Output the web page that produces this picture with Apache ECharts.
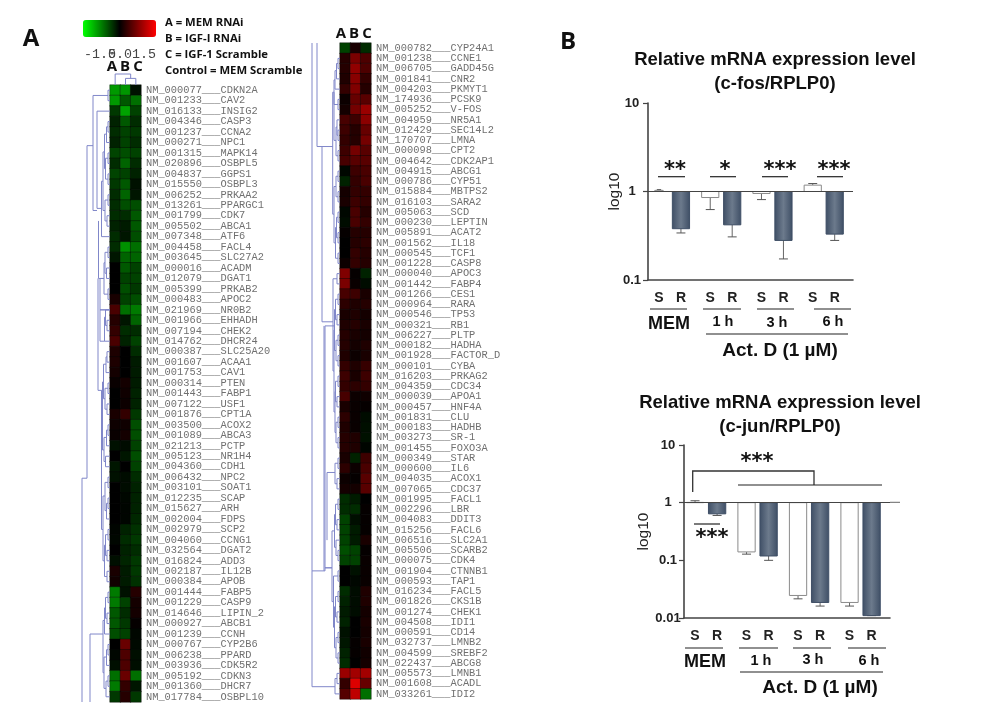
<!DOCTYPE html>
<html><head><meta charset="utf-8">
<style>html,body{margin:0;padding:0;background:#fff}#c{width:1002px;height:721px}</style>
<script src="https://cdn.jsdelivr.net/npm/echarts@6/dist/echarts.min.js"></script>
</head><body><div id="c"></div>
<script>
const sampleLabels = ['A','B','C'];
const leftGenes = ['NM_000077___CDKN2A','NM_001233___CAV2','NM_016133___INSIG2','NM_004346___CASP3','NM_001237___CCNA2','NM_000271___NPC1','NM_001315___MAPK14','NM_020896___OSBPL5','NM_004837___GGPS1','NM_015550___OSBPL3','NM_006252___PRKAA2','NM_013261___PPARGC1','NM_001799___CDK7','NM_005502___ABCA1','NM_007348___ATF6','NM_004458___FACL4','NM_003645___SLC27A2','NM_000016___ACADM','NM_012079___DGAT1','NM_005399___PRKAB2','NM_000483___APOC2','NM_021969___NR0B2','NM_001966___EHHADH','NM_007194___CHEK2','NM_014762___DHCR24','NM_000387___SLC25A20','NM_001607___ACAA1','NM_001753___CAV1','NM_000314___PTEN','NM_001443___FABP1','NM_007122___USF1','NM_001876___CPT1A','NM_003500___ACOX2','NM_001089___ABCA3','NM_021213___PCTP','NM_005123___NR1H4','NM_004360___CDH1','NM_006432___NPC2','NM_003101___SOAT1','NM_012235___SCAP','NM_015627___ARH','NM_002004___FDPS','NM_002979___SCP2','NM_004060___CCNG1','NM_032564___DGAT2','NM_016824___ADD3','NM_002187___IL12B','NM_000384___APOB','NM_001444___FABP5','NM_001229___CASP9','NM_014646___LIPIN_2','NM_000927___ABCB1','NM_001239___CCNH','NM_000767___CYP2B6','NM_006238___PPARD','NM_003936___CDK5R2','NM_005192___CDKN3','NM_001360___DHCR7','NM_017784___OSBPL10'];
const leftA = [-.9,-.9,-.33,-.2,-.26,-.2,-.4,-.26,-.4,-.33,-.26,-.26,-.26,-.2,-.26,-.26,-.13,0,0,0,.14,.43,.22,.3,.43,.17,.17,.12,.05,0,0,.15,.08,.05,-.1,0,-.13,-.1,0,0,0,0,-.03,-.04,0,-.09,.15,.1,-.72,-.72,-.52,-.52,-.46,0,-.04,-.09,-.65,-.72,-.33];
const leftB = [-.88,-.52,-.95,-.52,-.39,-.39,-.46,-.59,-.39,-.52,-.59,-.46,-.26,-.16,-.13,-.85,-.59,-.52,-.39,-.46,-.39,-.65,-.13,-.26,-.2,0,0,0,.12,.09,.07,.3,.09,.12,-.07,-.13,0,-.07,-.07,-.04,-.03,-.03,-.2,-.26,-.2,-.22,-.16,-.16,-.1,-.39,-.26,-.33,-.39,.62,.45,.45,.62,.3,.22];
const leftC = [-.1,-.65,-.39,-.26,-.33,-.26,-.39,-.26,-.2,-.1,-.13,-.46,-.52,-.52,-.46,-.65,-.59,-.39,-.39,-.33,-.46,-.72,-.59,-.26,-.39,-.26,-.16,-.16,-.16,-.2,-.2,-.33,-.46,-.46,-.39,-.46,-.39,-.26,-.2,-.2,-.2,-.23,-.29,-.33,-.26,-.33,-.33,-.29,.22,.12,.12,.03,-.04,-.05,-.09,-.08,-.65,-.13,-.33];
const rightGenes = ['NM_000782___CYP24A1','NM_001238___CCNE1','NM_006705___GADD45G','NM_001841___CNR2','NM_004203___PKMYT1','NM_174936___PCSK9','NM_005252___V-FOS','NM_004959___NR5A1','NM_012429___SEC14L2','NM_170707___LMNA','NM_000098___CPT2','NM_004642___CDK2AP1','NM_004915___ABCG1','NM_000786___CYP51','NM_015884___MBTPS2','NM_016103___SARA2','NM_005063___SCD','NM_000230___LEPTIN','NM_005891___ACAT2','NM_001562___IL18','NM_000545___TCF1','NM_001228___CASP8','NM_000040___APOC3','NM_001442___FABP4','NM_001266___CES1','NM_000964___RARA','NM_000546___TP53','NM_000321___RB1','NM_006227___PLTP','NM_000182___HADHA','NM_001928___FACTOR_D','NM_000101___CYBA','NM_016203___PRKAG2','NM_004359___CDC34','NM_000039___APOA1','NM_000457___HNF4A','NM_001831___CLU','NM_000183___HADHB','NM_003273___SR-1','NM_001455___FOXO3A','NM_000349___STAR','NM_000600___IL6','NM_004035___ACOX1','NM_007065___CDC37','NM_001995___FACL1','NM_002296___LBR','NM_004083___DDIT3','NM_015256___FACL6','NM_006516___SLC2A1','NM_005506___SCARB2','NM_000075___CDK4','NM_001904___CTNNB1','NM_000593___TAP1','NM_016234___FACL5','NM_001826___CKS1B','NM_001274___CHEK1','NM_004508___IDI1','NM_000591___CD14','NM_032737___LMNB2','NM_004599___SREBF2','NM_022437___ABCG8','NM_005573___LMNB1','NM_001608___ACADL','NM_033261___IDI2'];
const rightA = [-.39,.22,.22,.18,.3,.07,.12,.42,.36,.3,.36,.42,-.04,-.2,.12,.15,-.04,-.07,.03,0,0,.07,.75,.72,.42,.26,.15,.18,.22,.22,.18,.3,.36,.3,.42,.15,.26,.18,.22,.22,.15,.26,.07,.12,-.26,-.26,-.39,-.39,-.39,-.46,-.39,0,0,-.26,-.2,-.16,-.2,-.1,-.13,-.2,-.26,.9,.3,.5];
const rightB = [.15,.72,.85,.8,.75,.6,.68,.36,.22,.22,.68,.52,.36,.3,.3,.36,.43,.43,.22,.22,.3,.3,.03,.05,.36,.18,.18,.22,.15,.12,.07,.18,.15,.26,.07,.05,.05,.05,.18,.18,-.2,.07,.03,.12,-.16,-.26,-.08,-.16,-.16,-.39,-.39,-.1,-.04,-.07,-.07,-.07,0,0,.03,.03,0,.95,1.3,1.12];
const rightC = [-.26,.45,.45,.3,.22,.52,.9,.82,.6,.68,.52,.52,.43,.43,.3,.3,.22,.3,.22,.26,.22,.22,-.2,-.07,.15,.22,.12,.15,.12,.18,.15,.32,.36,.3,.09,.03,-.07,-.09,-.1,-.03,.36,.43,.52,.52,0,.03,.03,.03,.15,.03,.05,.05,.05,.18,.18,.12,.15,.12,.15,.1,.12,.95,.6,-.65];
const scaleTicks = ['-1.5','0.0','1.5'];
const legendLines = ['A = MEM RNAi','B = IGF-I RNAi','C = IGF-1 Scramble','Control = MEM Scramble'];

// Dendrogram merges: [height, rowA, rowB, childHeightA, childHeightB]
const leftMerges = [[108,0,1,110,110],[93,.5,11.5,108,97],[97,2,11.3,110,101.5],[108,3,4,110,110],[106.5,3.5,5,108,110],[108,6,7,110,110],[108,8,9,110,110],[105.5,6.5,8.5,108,108],[104.5,4.2,7.5,106.5,105.5],[108,10,11,110,110],[107,12,13,110,110],[105,10.5,12.5,108,107],[103,5.9,11.5,104.5,105],[101.5,8.7,14,103,110],
[108,15,16,110,110],[106.5,17,18,110,110],[108,19,20,110,110],[105,15.5,17.5,108,106.5],[104,16.5,19.5,105,108],[107,22,23,110,110],[105.5,21,22.5,110,107],[104.5,21.7,24,105.5,110],[98.5,12.5,18,98.5,104],[100,21,21,110,110],[98,18,28.7,98,101.5],[100,18,24,104,104.5],
[107,25,26,110,110],[106,25.5,27,107,110],[108,28,29,110,110],[107,30,31,110,110],[105,28.5,30.5,108,107],[103.5,26.2,29.5,106,105],[108,32,33,110,110],[106.5,32.5,34,108,110],[105.5,35,36,110,110],[104,33.2,35.5,106.5,105.5],[102.5,27.9,34.4,103.5,104],[108,37,38,110,110],[108,39,40,110,110],[106.5,41,39.5,110,108],[105,37.5,40.2,108,106.5],[108,42,43,110,110],[107,44,45,110,110],[105.5,42.5,44.5,108,107],[107,46,47,110,110],[104.5,43.5,46.5,105.5,107],[103,38.8,45,105,104.5],[101.5,28.7,42,102.5,103],
[87,5.3,37.1,93,82],[82,37.1,58.5,82,82],[108,48,49,110,110],[107,50,51,110,110],[105.5,48.5,50.5,108,107],[104.5,49.5,52,105.5,110],[108,53,54,110,110],[106.5,53.5,55,108,110],[108,56,57,110,110],[106,56.5,58,108,110],[104,54.2,57.2,106.5,106],[103,50.7,55.7,104.5,104],[90,52,58.5,103,90]];
const rightMerges = [[338,1,2,340,340],[336.5,1.5,3,338,340],[335,2.2,4,336.5,340],[338,5,6,340,340],[334,3.1,5.5,335,338],[338,8,9,340,340],[337,7,8.5,340,338],[338,10,11,340,340],[336,7.7,10.5,337,338],[334,4.3,9,334,336],[338,12,13,340,340],[338,14,15,340,340],[336,12.5,14.5,338,338],[338,16,17,340,340],[338,18,19,340,340],[336.5,16.5,18.5,338,338],[338,20,21,340,340],[335.5,17.5,20.5,336.5,338],[334,13.5,19,336,335.5],[332.7,4.3,16.2,334,334],[322,9.6,26.7,332.7,333],[317,-.5,9.6,317,322],
[337,22,23,340,340],[338,24,25,340,340],[337,26,27,340,340],[335.5,24.5,26.5,338,337],[338,28,29,340,340],[338,30,31,340,340],[336,28.5,30.5,338,338],[334.5,25.5,29.5,335.5,336],[338,32,33,340,340],[337,34,35,340,340],[335.5,32.5,34.5,338,337],[338,36,37,340,340],[338,38,39,340,340],[336,36.5,38.5,338,338],[335,33.5,37.5,335.5,336],[334,27.5,35.5,334.5,335],[333,22.5,31.5,337,334],
[325,27.1,51,334,325],[324,27.1,51,324,324],[338,40,41,340,340],[337,42,43,340,340],[335,40.5,42.5,338,337],[327,41.4,48,335,327],[338,44,45,340,340],[337,46,47,340,340],[335.5,44.5,46.5,338,337],[338,49,50,340,340],[336,48,49.5,340,338],[334.5,45.5,48.7,335.5,336],[338,51,52,340,340],[338,53,54,340,340],[337,55,56,340,340],[335.5,53.5,55.5,338,337],[338,57,58,340,340],[338,59,60,340,340],[336,57.5,59.5,338,338],[334.5,54.5,58.5,335.5,336],[333.5,51.5,56.5,338,334.5],[332,47.1,54,334.5,333.5],[325,50.7,50.7,332,332],
[337,61,62,340,340],[335,61.5,63,337,340],[312,-.5,51,312,325],[312,51,62.3,312,335]];
// Column dendrogram: [height, colA, colB, childHeightA, childHeightB]
const columnMerges = [[10,0,1.5,0,6],[6,1,2,0,0]];

const barSlots = ['','S','','','R','','','','S','','','R','','','','S','','','R','','','','S','','','R','',''];
const fosValues = [1.03,.38,.855,.42,.95,.28,1.18,.33];
const fosErrors = [1.05,.34,.625,.307,.81,.173,1.23,.28];
const junValues = [1.01,.64,.14,.119,.0246,.0186,.0186,.011];
const junErrors = [1.08,.6,.128,.1,.0215,.0161,.0161,.011];

const SANS='"Liberation Sans",Arial,sans-serif', MONO='"Liberation Mono",monospace', OPEN='"Open Sans",sans-serif', DJ='"DejaVu Sans",sans-serif';
const DENDRO='#8087c9';
function cells(a,b,c){const d=[];[a,b,c].forEach((col,x)=>col.forEach((v,y)=>d.push([x,y,v])));return d;}

function bracketRow(params,api){
  const d=api.value(0),a=api.value(1),b=api.value(2),da=api.value(3),db=api.value(4);
  const pts=[[da,a],[d,a],[d,b],[db,b]].map(p=>api.coord(p));
  return {type:'polyline',shape:{points:pts},style:{stroke:DENDRO,fill:null,lineWidth:1}};
}
function bracketCol(params,api){
  const d=api.value(0),a=api.value(1),b=api.value(2),da=api.value(3),db=api.value(4);
  const pts=[[a,da],[a,d],[b,d],[b,db]].map(p=>api.coord(p));
  return {type:'polyline',shape:{points:pts},style:{stroke:DENDRO,fill:null,lineWidth:1}};
}
function barRender(narrowFirst){return function(params,api){
  const x=api.value(0),v=api.value(1),e=api.value(2),isR=params.dataIndex%2===1;
  const band=api.size([1,0])[0];
  let w=band*2.35; if(narrowFirst&&params.dataIndex===0)w=band*1.15;
  const base=api.coord([x,1]),top=api.coord([x,v]),err=api.coord([x,e]);
  const y0=Math.min(base[1],top[1]),h=Math.abs(base[1]-top[1]);
  const fill=isR?new echarts.graphic.LinearGradient(0,0,1,0,[{offset:0,color:'#3e4e65'},{offset:.5,color:'#6c7a8c'},{offset:1,color:'#3e4e65'}]):'#fff';
  return {type:'group',children:[
    {type:'line',shape:{x1:base[0],y1:top[1],x2:base[0],y2:err[1]},style:{stroke:'#666',lineWidth:1}},
    {type:'line',shape:{x1:base[0]-w*.26,y1:err[1],x2:base[0]+w*.26,y2:err[1]},style:{stroke:'#555',lineWidth:1}},
    {type:'rect',shape:{x:base[0]-w/2,y:y0,width:w,height:h},style:{fill:fill,stroke:isR?'#3e4e65':'#8a8a8a',lineWidth:1}}
  ]};
};}
const slotIdx=barSlots.map((s,i)=>s?i:-1).filter(i=>i>=0);
const rows=(vals,errs)=>vals.map((v,i)=>[slotIdx[i],v,errs[i]]);
const logY=(idx,min,nameGap,margin)=>({gridIndex:idx,type:'log',logBase:10,min:min,max:10,position:'left',
  axisLine:{show:true,lineStyle:{color:'#444',width:1.6}},axisTick:{show:true,length:5,lineStyle:{color:'#444',width:1.2}},minorTick:{show:false},splitLine:{show:false},
  axisLabel:{fontFamily:SANS,fontWeight:'bold',fontSize:13,color:'#222',align:'center',margin:margin,showMinLabel:true,showMaxLabel:true,formatter:v=>String(+v.toPrecision(1))},
  name:'log10',nameLocation:'middle',nameGap:nameGap,nameMoveOverlap:false,nameRotate:90,nameTextStyle:{fontFamily:SANS,fontSize:15.5,color:'#222'}});
const catX=(idx)=>({gridIndex:idx,type:'category',data:barSlots,boundaryGap:true,position:'bottom',
  axisLine:{show:true,onZero:false,lineStyle:{color:'#444',width:1.6}},axisTick:{show:false},splitLine:{show:false},
  axisLabel:{interval:0,fontFamily:SANS,fontWeight:'bold',fontSize:14,color:'#222',margin:11,hideOverlap:false}});
const oneLine={silent:true,symbol:'none',label:{show:false},lineStyle:{color:'#444',width:1.2,type:'solid'},data:[{yAxis:1}],animation:false};

const hY=(idx,genes)=>({gridIndex:idx,type:'category',data:genes,inverse:true,position:'right',axisLine:{show:false},axisTick:{show:false},splitLine:{show:false},
  axisLabel:{interval:0,margin:5,fontFamily:MONO,fontSize:10.35,color:'#707070'}});
const hX=(idx)=>({gridIndex:idx,type:'category',data:sampleLabels,position:'top',axisLine:{show:false},axisTick:{show:false},splitLine:{show:false},axisLabel:{show:false}});
const hidV=(idx,min,max,inv)=>({gridIndex:idx,type:'value',min:min,max:max,inverse:!!inv,show:false,splitLine:{show:false}});
const cellStyle={borderColor:'#060606',borderWidth:.4};

const txt=(t,x,y,font,fill,align)=>({type:'text',silent:true,style:{text:t,x:x,y:y,font:font,fill:fill||'#111',textAlign:align||'center',textVerticalAlign:'middle'}});
const ln=(x1,y1,x2,y2,w,c)=>({type:'line',silent:true,shape:{x1,y1,x2,y2},style:{stroke:c||'#222',lineWidth:w||1.2}});
const pl=(pts,w)=>({type:'polyline',silent:true,shape:{points:pts},style:{stroke:'#333',fill:null,lineWidth:w||1.3}});
const STAR='bold 21px '+DJ, ABC='bold 15px '+OPEN;
const graphics=[
  txt('A',31,39,'bold 24px '+OPEN,'#111'),
  txt('B',568,42,'bold 24px '+OPEN,'#111'),
  txt(scaleTicks[0],84,54,'13.3px '+MONO,'#444','left'),
  txt(scaleTicks[1],108,54,'13.3px '+MONO,'#444','left'),
  txt(scaleTicks[2],132,54,'13.3px '+MONO,'#444','left'),
  ...sampleLabels.map((t,i)=>txt(t,112+13*i,67,ABC)),
  ...sampleLabels.map((t,i)=>txt(t,341+13*i,34,ABC)),
  ...legendLines.map((t,i)=>txt(t,165,23+16*i,'bold 11.3px '+OPEN,'#111','left')),
  // c-fos annotations
  txt('**',675,171,STAR), ln(658,176.7,685,176.7),
  txt('*',725,171,STAR), ln(710,176.7,736,176.7),
  txt('***',780,171,STAR), ln(762,176.7,788,176.7),
  txt('***',834,171,STAR), ln(817,176.7,843,176.7),
  ln(650,309,687,309), ln(703,309,741,309), ln(757,309,794,309), ln(814,309,851,309),
  txt('MEM',669,324,'bold 18px '+SANS), txt('1 h',723,322,'bold 14.5px '+SANS), txt('3 h',777,323,'bold 14.5px '+SANS), txt('6 h',833,322,'bold 14.5px '+SANS),
  ln(706,334,848,334), txt('Act. D (1 µM)',780,351,'bold 19px '+SANS),
  // c-jun annotations
  pl([[692.7,492],[692.7,471],[814,471],[814,485]]), ln(738,485,882,485),
  txt('***',757,463,STAR), ln(694,524,720,524), txt('***',712,539,STAR),
  ln(890,502.3,900,502.3,1,'#666'),
  ln(685,648,723,648), ln(739,648,778,648), ln(793,648,831,648), ln(848,648,886,648),
  txt('MEM',705,662,'bold 18px '+SANS), txt('1 h',761,661,'bold 14.5px '+SANS), txt('3 h',813,660,'bold 14.5px '+SANS), txt('6 h',869,661,'bold 14.5px '+SANS),
  ln(740,672,883,672), txt('Act. D (1 µM)',820,688,'bold 19px '+SANS)
];
const titleStyle={fontFamily:SANS,fontWeight:'bold',fontSize:18.5,color:'#111',lineHeight:24};
const option={
  animation:false,backgroundColor:'#fff',
  title:[
    {text:'Relative mRNA expression level\n(c-fos/RPLP0)',left:775,top:48,textAlign:'center',padding:0,textStyle:titleStyle},
    {text:'Relative mRNA expression level\n(c-jun/RPLP0)',left:780,top:391,textAlign:'center',padding:0,textStyle:titleStyle}
  ],
  visualMap:{type:'continuous',min:-1.5,max:1.5,seriesIndex:[0,1],orient:'horizontal',left:83,top:20,itemWidth:17,itemHeight:73,padding:0,calculable:false,text:null,showLabel:false,inRange:{color:['#00ff00','#000000','#ff0000']}},
  grid:[
    {left:110,top:85,width:31,height:617},
    {left:340,top:43,width:31,height:656},
    {left:80,top:85,width:30,height:617},
    {left:310,top:43,width:30,height:656},
    {left:110,top:74,width:31,height:11},
    {left:648,top:103,width:205,height:177},
    {left:684,top:445,width:206,height:173}
  ],
  xAxis:[hX(0),hX(1),hidV(2,80,110),hidV(3,310,340),hidV(4,-.5,2.5),catX(5),catX(6)],
  yAxis:[hY(0,leftGenes),hY(1,rightGenes),hidV(2,-.5,58.5,true),hidV(3,-.5,63.5,true),hidV(4,0,10),logY(5,.1,25,16),logY(6,.01,32,16)],
  series:[
    {type:'heatmap',xAxisIndex:0,yAxisIndex:0,data:cells(leftA,leftB,leftC),itemStyle:cellStyle,emphasis:{disabled:true}},
    {type:'heatmap',xAxisIndex:1,yAxisIndex:1,data:cells(rightA,rightB,rightC),itemStyle:cellStyle,emphasis:{disabled:true}},
    {type:'custom',xAxisIndex:2,yAxisIndex:2,data:leftMerges,renderItem:bracketRow,clip:false,silent:true},
    {type:'custom',xAxisIndex:3,yAxisIndex:3,data:rightMerges,renderItem:bracketRow,clip:false,silent:true},
    {type:'custom',xAxisIndex:4,yAxisIndex:4,data:columnMerges,renderItem:bracketCol,clip:false,silent:true},
    {type:'custom',name:'c-fos',xAxisIndex:5,yAxisIndex:5,data:rows(fosValues,fosErrors),renderItem:barRender(true),clip:false,silent:true,markLine:oneLine},
    {type:'custom',name:'c-jun',xAxisIndex:6,yAxisIndex:6,data:rows(junValues,junErrors),renderItem:barRender(false),clip:false,silent:true,markLine:oneLine}
  ],
  graphic:graphics
};
echarts.init(document.getElementById('c'),null,{renderer:'canvas'}).setOption(option);
</script></body></html>
